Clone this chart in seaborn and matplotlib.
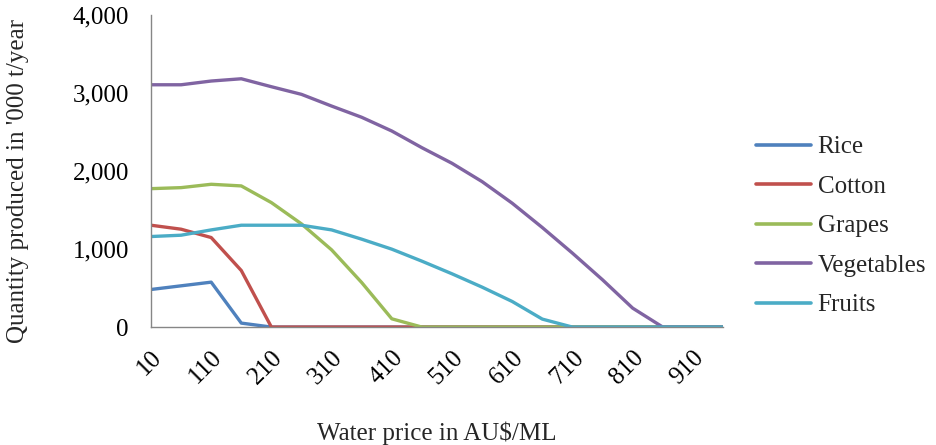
import matplotlib
matplotlib.use("Agg")
import matplotlib.pyplot as plt
import seaborn as sns
import pandas as pd
import numpy as np

# Water prices (AU$/ML)
prices = [10, 60, 110, 160, 210, 260, 310, 360, 410, 460,
          510, 560, 610, 660, 710, 760, 810, 860, 910, 960]

# Quantity produced ('000 t/year)
rice = [482, 529, 576, 51, 0, 0, 0, 0, 0, 0,
        0, 0, 0, 0, 0, 0, 0, 0, 0, 0]
cotton = [1306, 1255, 1148, 725, 0, 0, 0, 0, 0, 0,
          0, 0, 0, 0, 0, 0, 0, 0, 0, 0]
grapes = [1775, 1788, 1831, 1810, 1596, 1323, 990, 571, 106, 0,
          0, 0, 0, 0, 0, 0, 0, 0, 0, 0]
vegetables = [3107, 3107, 3155, 3184, 3082, 2984, 2834, 2690, 2514, 2300,
              2100, 1865, 1588, 1276, 948, 606, 243, 0, 0, 0]
fruits = [1161, 1178, 1246, 1306, 1306, 1306, 1246, 1127, 999, 845,
          683, 512, 328, 102, 0, 0, 0, 0, 0, 0]

series_names = ["Rice", "Cotton", "Grapes", "Vegetables", "Fruits"]
series_values = [rice, cotton, grapes, vegetables, fruits]
colors = ["#4F81BD", "#C0504D", "#9BBB59", "#8064A2", "#4BACC6"]

y_ticks = [0, 1000, 2000, 3000, 4000]

df = pd.DataFrame({
    "price": np.tile(prices, len(series_names)),
    "quantity": np.concatenate(series_values),
    "crop": np.repeat(series_names, len(prices)),
})

sns.set_theme(style="white")
plt.rcParams["font.family"] = ["Liberation Serif", "DejaVu Serif"]
FS = 18

fig = plt.figure(figsize=(9.36, 4.45), dpi=100)
ax = fig.add_axes([0.1613, 0.265, 0.7724 - 0.1613, 0.966 - 0.265])

sns.lineplot(data=df, x="price", y="quantity", hue="crop",
             hue_order=series_names, palette=colors, linewidth=2.4,
             ax=ax, legend=True)

ax.set_xlim(prices[0], prices[-1])
ax.set_ylim(y_ticks[0], y_ticks[-1])
ax.set_xticks(prices)
# every other price is labelled
ax.set_xticklabels([str(p) if i % 2 == 0 else "" for i, p in enumerate(prices)],
                   rotation=45, ha="right", rotation_mode="anchor",
                   fontsize=FS)
ax.set_yticks(y_ticks)
ax.set_yticklabels([f"{v:,}" for v in y_ticks], fontsize=FS)

for side in ["top", "right"]:
    ax.spines[side].set_visible(False)
for side in ["left", "bottom"]:
    ax.spines[side].set_color("#868686")
    ax.spines[side].set_linewidth(1.0)
ax.tick_params(axis="both", which="both", direction="out", length=6,
               width=1.0, colors="#868686", labelcolor="black")
ax.tick_params(axis="y", pad=10)
ax.tick_params(axis="x", pad=8)

ax.set_xlabel("Water price in AU$/ML", fontsize=FS, labelpad=24)
ax.set_ylabel("Quantity produced in '000 t/year", fontsize=FS)
ax.yaxis.set_label_coords(-0.214, 0.468)

handles, labels = ax.get_legend_handles_labels()
for h in handles:
    h.set_linewidth(2.6)
ax.legend(handles, labels, loc="center left",
          bbox_to_anchor=(0.808, 0.492), bbox_transform=fig.transFigure,
          frameon=False, fontsize=FS, handlelength=2.2,
          handletextpad=0.25, labelspacing=0.68, borderaxespad=0,
          borderpad=0)

fig.savefig("out.png", dpi=100)
